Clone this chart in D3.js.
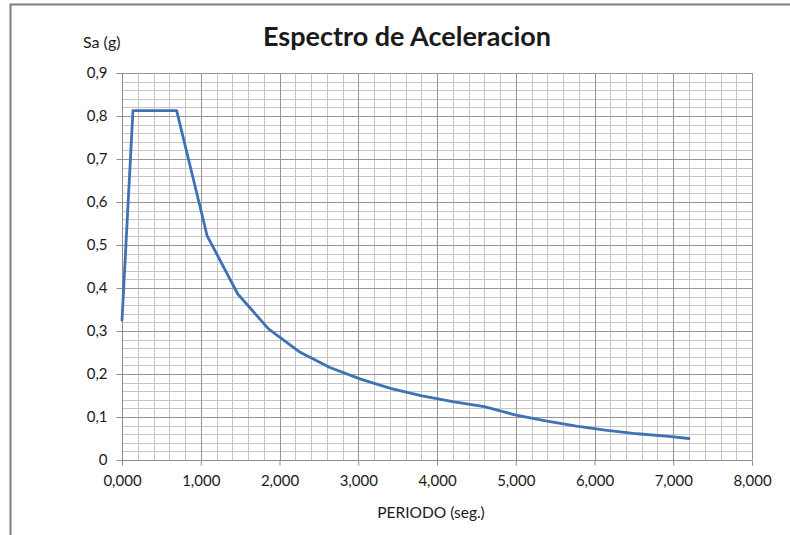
<!DOCTYPE html>
<html>
<head>
<meta charset="utf-8">
<script src="https://cdn.jsdelivr.net/npm/d3@7"></script>
<style>
  html, body { margin: 0; padding: 0; background: #ffffff; }
  svg { display: block; }
  text { font-family: Lato, "Open Sans", sans-serif; fill: #1a1a1a; }
</style>
</head>
<body>
<script>
// ---- data ----
const periods = [0, 0.139, 0.694, 1.08, 1.47, 1.86, 2.25, 2.64, 3.03, 3.42, 3.81, 4.20, 4.60, 4.99, 5.38, 5.77, 6.16, 6.55, 6.94, 7.20];
const saValues = [0.325, 0.8125, 0.8125, 0.522, 0.386, 0.305, 0.252, 0.215, 0.188, 0.166, 0.149, 0.136, 0.124, 0.105, 0.091, 0.079, 0.069, 0.061, 0.055, 0.050];
const xTicks = [0, 1, 2, 3, 4, 5, 6, 7, 8];
const yTicks = [0, 0.1, 0.2, 0.3, 0.4, 0.5, 0.6, 0.7, 0.8, 0.9];
const xTickLabels = ["0,000", "1,000", "2,000", "3,000", "4,000", "5,000", "6,000", "7,000", "8,000"];
const yTickLabels = ["0", "0,1", "0,2", "0,3", "0,4", "0,5", "0,6", "0,7", "0,8", "0,9"];
const titleText = "Espectro de Aceleracion";
const yTitle = "Sa (g)";
const xTitle = "PERIODO (seg.)";

const W = 790, H = 535;
const plot = { left: 122, right: 752, top: 73, bottom: 460 };

const svg = d3.select("body").append("svg").attr("width", W).attr("height", H);

// chart frame
svg.append("path")
  .attr("d", `M10.5,${H + 2} L10.5,4.5 L${W + 2},4.5`)
  .attr("fill", "none").attr("stroke", "#7f7f7f").attr("stroke-width", 2);

const x = d3.scaleLinear().domain([0, 8]).range([plot.left, plot.right]);
const y = d3.scaleLinear().domain([0, 0.9]).range([plot.bottom, plot.top]);

// minor gridlines
const xMinor = d3.range(0, 8.0001, 0.2).map(v => +v.toFixed(2));
const yMinor = d3.range(0, 0.9001, 0.02).map(v => +v.toFixed(3));
const grid = svg.append("g");
grid.selectAll("line.xm").data(xMinor).join("line")
  .attr("x1", d => Math.round(x(d)) + 0.5).attr("x2", d => Math.round(x(d)) + 0.5)
  .attr("y1", plot.top).attr("y2", plot.bottom)
  .attr("stroke", "#c6c6c6").attr("stroke-width", 1);
grid.selectAll("line.ym").data(yMinor).join("line")
  .attr("y1", d => Math.round(y(d)) + 0.5).attr("y2", d => Math.round(y(d)) + 0.5)
  .attr("x1", plot.left).attr("x2", plot.right)
  .attr("stroke", "#c6c6c6").attr("stroke-width", 1);
// major gridlines
grid.selectAll("line.xM").data(xTicks).join("line")
  .attr("x1", d => Math.round(x(d)) + 0.5).attr("x2", d => Math.round(x(d)) + 0.5)
  .attr("y1", plot.top).attr("y2", plot.bottom)
  .attr("stroke", "#969696").attr("stroke-width", 1);
grid.selectAll("line.yM").data(yTicks).join("line")
  .attr("y1", d => Math.round(y(d)) + 0.5).attr("y2", d => Math.round(y(d)) + 0.5)
  .attr("x1", plot.left).attr("x2", plot.right)
  .attr("stroke", "#969696").attr("stroke-width", 1);

// axes
const xAxis = d3.axisBottom(x).tickValues(xTicks).tickSize(5).tickPadding(10)
  .tickFormat((d, i) => xTickLabels[i]);
const yAxis = d3.axisLeft(y).tickValues(yTicks).tickSize(6).tickPadding(9)
  .tickFormat((d, i) => yTickLabels[i]);

const gx = svg.append("g").attr("transform", `translate(0,${plot.bottom + 0.5})`).call(xAxis);
const gy = svg.append("g").attr("transform", `translate(${plot.left + 0.5},0)`).call(yAxis);
[gx, gy].forEach(g => {
  g.select(".domain").attr("stroke", "#8c8c8c");
  g.selectAll(".tick line").attr("stroke", "#8c8c8c");
  g.selectAll(".tick text").style("font-size", "15px").attr("fill", "#1a1a1a")
    .style("font-family", "Lato, 'Open Sans', sans-serif");
});
gx.select(".domain").attr("d", `M${plot.left},0H${plot.right}`);
gy.select(".domain").attr("d", `M0,${plot.bottom}V${plot.top}`);

// line
const line = d3.line().x((d, i) => x(periods[i])).y(d => y(d));
svg.append("path").datum(saValues)
  .attr("d", line)
  .attr("fill", "none")
  .attr("stroke", "#3f72b5")
  .attr("stroke-width", 2.8)
  .attr("stroke-linejoin", "round")
  .attr("stroke-linecap", "round");

// titles
svg.append("text").attr("x", 407).attr("y", 46).attr("text-anchor", "middle")
  .style("font-size", "27px").style("font-weight", "bold").attr("fill", "#000")
  .text(titleText);
svg.append("text").attr("x", 83).attr("y", 48)
  .style("font-size", "16px").text(yTitle);
svg.append("text").attr("x", 431).attr("y", 518).attr("text-anchor", "middle")
  .style("font-size", "15.5px").text(xTitle);
</script>
</body>
</html>
